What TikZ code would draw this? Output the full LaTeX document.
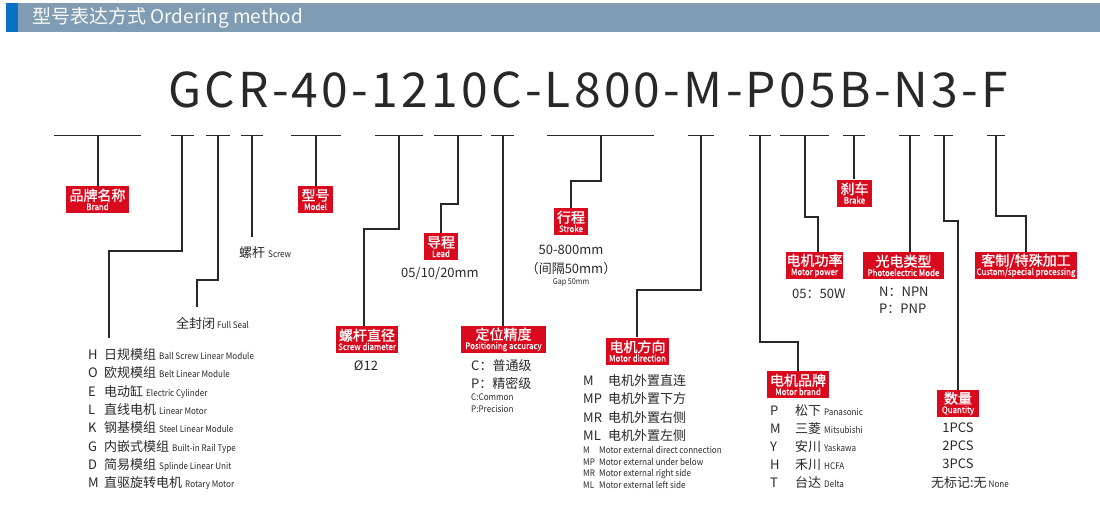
\documentclass[tikz,border=0pt]{standalone}
\usepackage{fontspec}
\setmainfont{Noto Sans CJK SC}
\newfontfamily\condfont[FakeStretch=0.9]{Noto Sans CJK SC}
\newfontfamily\boxfont[FakeBold=1.2]{Noto Sans CJK SC}
\newfontfamily\boxcond[FakeStretch=0.88,FakeBold=0.6]{Noto Sans CJK SC}
\newcommand\fs[1]{\fontsize{#1}{#1}\selectfont}
\newcommand\sm[1]{{\condfont\fs{9}#1}}
\definecolor{hdrgray}{RGB}{128,156,178}
\definecolor{hdrblue}{RGB}{10,114,196}
\definecolor{boxred}{RGB}{218,10,30}
\definecolor{txt}{RGB}{40,40,40}
\tikzset{
  conn/.style={draw=txt, line width=1.6pt},
  bar/.style={draw=txt, line width=1.6pt},
  redbox/.style={fill=boxred, text=white, inner sep=0pt, minimum height=27pt, align=center},
  item/.style={text=txt, inner sep=0pt, anchor=west, font=\fs{13}},
  citem/.style={text=txt, inner sep=0pt, anchor=center, font=\fs{13}},
  sitem/.style={text=txt, inner sep=0pt, anchor=west, font=\condfont\fs{9}},
}
\newcommand\bx[2]{{\boxfont\fs{14}#1}\\[-2.5pt]{\boxcond\fs{9}#2}}
\begin{document}
\begin{tikzpicture}[x=1pt,y=-1pt]
\useasboundingbox (0,0) rectangle (1100,507);
% header
\fill[hdrgray] (18,3) rectangle (1100,32);
\fill[hdrblue] (6,3) rectangle (18,32);
\node[anchor=west, inner sep=0pt, text=white!95!hdrgray, font=\fs{19}] (title) at (32,17.5) {型号表达方式 Ordering method};
% code
\node[anchor=west, inner sep=0pt, text=txt] (code) at (168,90) {\fs{48}\makebox[840pt][s]{G\hfill C\hfill R\hfill -\hfill 4\hfill 0\hfill -\hfill 1\hfill 2\hfill 1\hfill 0\hfill C\hfill -\hfill L\hfill 8\hfill 0\hfill 0\hfill -\hfill M\hfill -\hfill P\hfill 0\hfill 5\hfill B\hfill -\hfill N\hfill 3\hfill -\hfill F}};
% bars
\foreach \a/\b/\s/\n in {54/141/97.7/1, 171/194/182/2, 206/230/218/3, 241/263/252/4, 291/341/316/5, 375/423/399/6, 434/482/458/7, 491/514/503/8, 547/654/601/9, 688/714/701/10, 749/771/760/11, 780/829/805/12, 843/865/854/13, 899/920/910/14, 934/953/944/15, 987/1005/996/16}{
  \draw[bar] (\a,135.5) -- (\b,135.5);
  \coordinate (s\n) at (\s,135.5);
}
% red boxes
\node[redbox, minimum width=63pt] (brand) at (97.5,199.5) {\bx{品牌名称}{Brand}};
\node[redbox, minimum width=35pt] (model) at (315.5,199.5) {\bx{型号}{Model}};
\node[redbox, minimum width=62pt] (screwdia) at (367,339.5) {\bx{螺杆直径}{Screw diameter}};
\node[redbox, minimum width=34pt] (lead) at (441,246.5) {\bx{导程}{Lead}};
\node[redbox, minimum width=85pt] (posacc) at (503.5,339.5) {\bx{定位精度}{Positioning accuracy}};
\node[redbox, minimum width=34pt] (stroke) at (571,221.5) {\bx{行程}{Stroke}};
\node[redbox, minimum width=63pt] (motordir) at (637.5,351) {\bx{电机方向}{Motor direction}};
\node[redbox, minimum width=62pt] (motorbrand) at (798,384.5) {\bx{电机品牌}{Motor brand}};
\node[redbox, minimum width=57pt] (motorpower) at (814.5,265.5) {\bx{电机功率}{Motor power}};
\node[redbox, minimum width=35pt] (brake) at (854.5,193) {\bx{刹车}{Brake}};
\node[redbox, minimum width=81pt] (photo) at (903.5,265.5) {\bx{光电类型}{Photoelectric Mode}};
\node[redbox, minimum width=42pt] (quantity) at (958,403.5) {\bx{数量}{Quantity}};
\node[redbox, minimum width=102pt] (custom) at (1026,265.5) {\bx{客制/特殊加工}{Custom/special processing}};
% free ends
\coordinate (e2) at (109,338);
\coordinate (e3) at (197,307);
\coordinate (e4) at (252,237);
% connectors
\draw[conn] (s1) -- (s1 |- brand.north);
\draw[conn] (s2) -- (182,251) -- (109,251) -- (e2);
\draw[conn] (s3) -- (218,280) -- (197,280) -- (e3);
\draw[conn] (s4) -- (e4);
\draw[conn] (s5) -- (s5 |- model.north);
\draw[conn] (s6) -- (399,229) -- (364,229) -- (364,0 |- screwdia.north);
\draw[conn] (s7) -- (458,204) -- (441,204) -- (lead.north);
\draw[conn] (s8) -- (s8 |- posacc.north);
\draw[conn] (s9) -- (601,181) -- (571,181) -- (stroke.north);
\draw[conn] (s10) -- (701,290) -- (637,290) -- (637,0 |- motordir.north);
\draw[conn] (s11) -- (760,342) -- (798,342) -- (motorbrand.north);
\draw[conn] (s12) -- (805,217) -- (818,217) -- (818,0 |- motorpower.north);
\draw[conn] (s13) -- (s13 |- brake.north);
\draw[conn] (s14) -- (s14 |- photo.north);
\draw[conn] (s15) -- (944,221) -- (958,221) -- (quantity.north);
\draw[conn] (s16) -- (996,216) -- (1026,216) -- (custom.north);
% screw / full seal
\node[item] (screw) at (239,253) {螺杆\hspace{3pt}\sm{Screw}};
\node[item] (fullseal) at (176,323) {全封闭\hspace{2pt}\sm{Full Seal}};
% left list
\foreach \y/\l/\c/\e/\n in {355/H/日规模组/Ball Screw Linear Module/1, 373/O/欧规模组/Belt Linear Module/2, 392/E/电动缸/Electric Cylinder/3, 410/L/直线电机/Linear Motor/4, 428/K/钢基模组/Steel Linear Module/5, 447/G/内嵌式模组/Built-in Rail Type/6, 465/D/简易模组/Splinde Linear Unit/7, 483/M/直驱旋转电机/Rotary Motor/8}{
  \node[item] (brand\n) at (88,\y) {\makebox[16pt][l]{\l}\c\hspace{3pt}\sm{\e}};
}
% screw diameter
\node[citem] (dia) at (366,366) {Ø12};
% lead
\node[citem] (leadv) at (440,273) {05/10/20mm};
% positioning
\node[item] (pos1) at (471,366) {C：普通级};
\node[item] (pos2) at (471,383) {P：精密级};
\node[sitem] (pos3) at (471,397) {C:Common};
\node[sitem] (pos4) at (471,409) {P:Precision};
% stroke
\node[citem] (st1) at (571,250) {50-800mm};
\node[citem] (st2) at (571,269) {（间隔50mm）};
\node[citem, font=\condfont\fs{8}] (st3) at (571,282) {Gap 50mm};
% motor direction
\foreach \y/\l/\c/\n in {381/M/电机外置直连/1, 399/MP/电机外置下方/2, 418/MR/电机外置右侧/3, 436/ML/电机外置左侧/4}{
  \node[item] (md\n) at (583,\y) {\makebox[25pt][l]{\l}\c};
}
\foreach \y/\l/\e/\n in {450/M/Motor external direct connection/1, 462/MP/Motor external under below/2, 474/MR/Motor external right side/3, 485/ML/Motor external left side/4}{
  \node[sitem] (mde\n) at (583,\y) {\makebox[16pt][l]{\l}\e};
}
% motor brand
\foreach \y/\l/\c/\e/\n in {411/P/松下/Panasonic/1, 429/M/三菱/Mitsubishi/2, 447/Y/安川/Yaskawa/3, 465/H/禾川/HCFA/4, 483/T/台达/Delta/5}{
  \node[item] (mb\n) at (770,\y) {\makebox[25pt][l]{\l}\c\hspace{3pt}\sm{\e}};
}
% motor power
\node[item] (mp) at (792,294) {05：50W};
% photo
\node[item] (ph1) at (879,292) {N：NPN};
\node[item] (ph2) at (879,309) {P：PNP};
% quantity
\node[citem] (q1) at (958,428) {1PCS};
\node[citem] (q2) at (958,446) {2PCS};
\node[citem] (q3) at (958,464) {3PCS};
\node[citem] (q4) at (970,483) {无标记:无\hspace{2pt}\sm{None}};
\end{tikzpicture}
\end{document}
